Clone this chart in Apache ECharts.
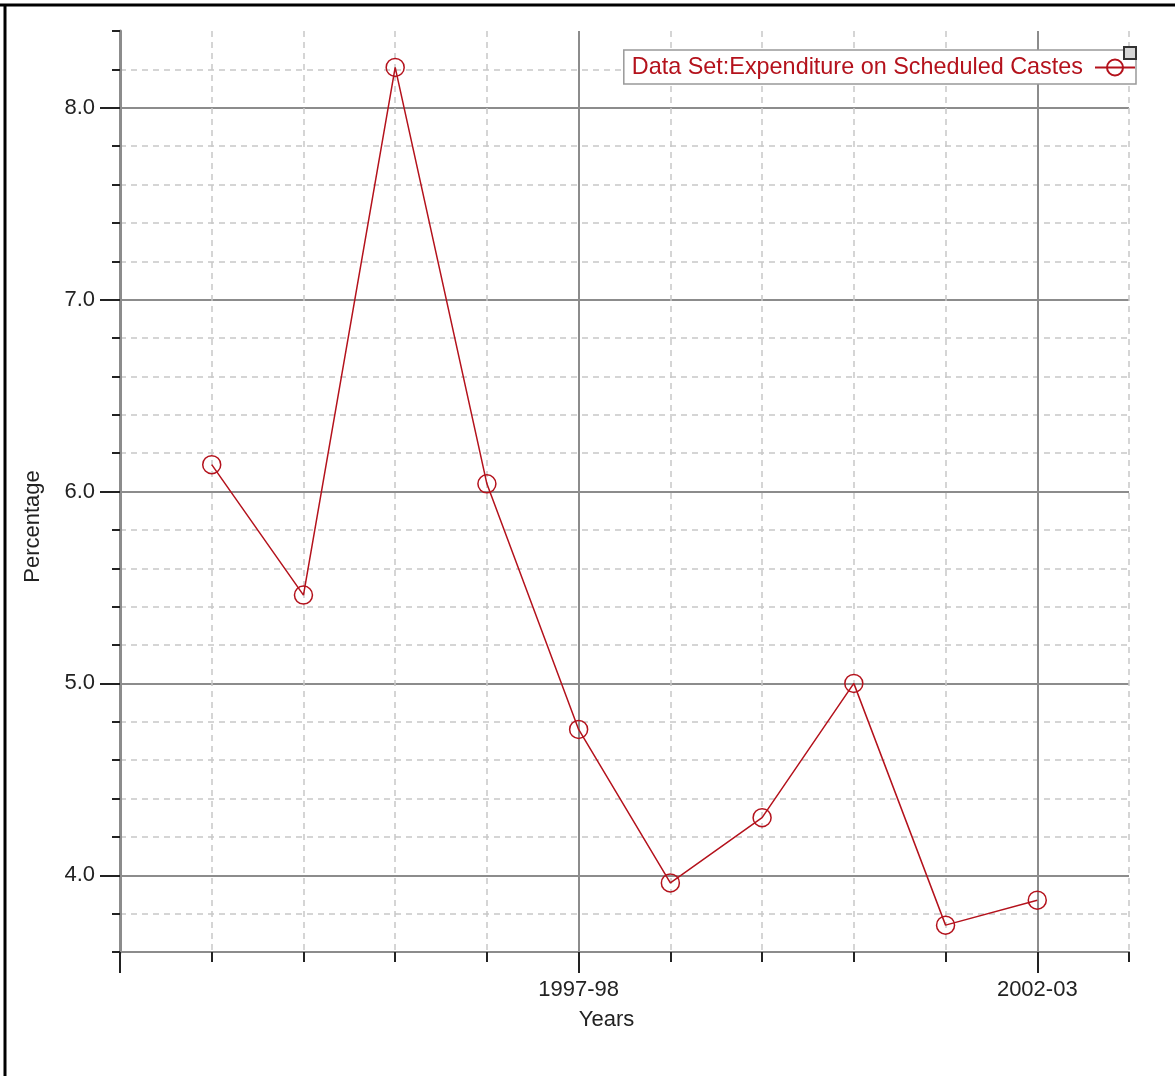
<!DOCTYPE html>
<html>
<head>
<meta charset="utf-8">
<script src="https://cdn.jsdelivr.net/npm/echarts@6/dist/echarts.min.js"></script>
<style>
html,body{margin:0;padding:0;background:#fff;}
#chart{width:1175px;height:1076px;}
</style>
</head>
<body>
<div id="chart"></div>
<script>
// Data
var years = ['1992-93','1993-94','1994-95','1995-96','1996-97','1997-98','1998-99','1999-00','2000-01','2001-02','2002-03','2003-04'];
var expenditure = [null, 6.14, 5.46, 8.21, 6.04, 4.76, 3.96, 4.30, 5.00, 3.74, 3.87, null];
var majorYTicks = [4, 5, 6, 7, 8];
var labeledYears = ['1997-98', '2002-03'];
var seriesName = 'Data Set:Expenditure on Scheduled Castes';

var FONT = 'Liberation Sans, Arial, sans-serif';
var RED = '#b4121c';
var DASH = {color: '#c8c8c8', width: 1.5, type: [6, 5]};
var SOLID = {color: '#8c8c8c', width: 2};

var chart = echarts.init(document.getElementById('chart'));
chart.setOption({
  backgroundColor: '#fff',
  animation: false,
  grid: {left: 120, right: 46, top: 31, bottom: 124, containLabel: false},
  legend: {
    right: 39, top: 50,
    orient: 'horizontal',
    align: 'right',
    backgroundColor: '#fff',
    borderColor: '#999', borderWidth: 1.5,
    padding: [6, 0, 5, 8],
    itemWidth: 40, itemHeight: 20,
    textStyle: {color: RED, fontSize: 23.4, fontFamily: FONT, padding: [0, 7, 0, 0]},
    data: [seriesName]
  },
  xAxis: [
    {
      type: 'category', data: years, boundaryGap: false, position: 'bottom',
      axisLine: {show: true, lineStyle: {color: '#8c8c8c', width: 2}},
      axisTick: {show: true, interval: 0, length: 10, lineStyle: {color: '#222', width: 2}},
      axisLabel: {show: false},
      splitLine: {show: true, interval: 0, lineStyle: DASH},
      name: 'Years', nameLocation: 'middle', nameGap: 57,
      nameTextStyle: {color: '#222', fontSize: 22, fontFamily: FONT, padding: [0, 36, 0, 0]}
    },
    {
      type: 'category', data: years, boundaryGap: false, position: 'bottom',
      axisLine: {show: false},
      axisTick: {show: true, length: 21, lineStyle: {color: '#222', width: 2},
        interval: function (i) { return i % 5 === 0; }},
      axisLabel: {show: true, margin: 27, color: '#222', fontSize: 22, fontFamily: FONT,
        interval: function (i, v) { return labeledYears.indexOf(v) >= 0; }},
      splitLine: {show: true, lineStyle: SOLID,
        interval: function (i) { return i % 5 === 0; }}
    }
  ],
  yAxis: [
    {
      type: 'value', min: 3.6, max: 8.4, interval: 0.2, position: 'left',
      axisLine: {show: true, lineStyle: {color: '#8c8c8c', width: 3}},
      axisTick: {show: true, length: 8, lineStyle: {color: '#222', width: 2}},
      axisLabel: {show: false},
      splitLine: {show: true, showMaxLine: false, lineStyle: DASH},
      name: 'Percentage', nameLocation: 'middle', nameGap: 76, nameRotate: 90,
      nameTextStyle: {color: '#222', fontSize: 22, fontFamily: FONT, padding: [0, 70, 0, 0]}
    },
    {
      type: 'value', min: 3.6, max: 8.4, interval: 1, position: 'left',
      axisLine: {show: false},
      axisTick: {show: true, length: 20, customValues: majorYTicks, lineStyle: {color: '#222', width: 2}},
      axisLabel: {show: true, margin: 25, customValues: majorYTicks, color: '#222', fontSize: 22, fontFamily: FONT,
        formatter: function (v) { return v.toFixed(1); }},
      splitLine: {show: true, lineStyle: SOLID}
    }
  ],
  series: [{
    name: seriesName,
    type: 'line',
    xAxisIndex: 0, yAxisIndex: 0,
    data: expenditure,
    connectNulls: false,
    symbol: 'circle', symbolSize: 18,
    lineStyle: {color: RED, width: 1.5},
    itemStyle: {color: 'rgba(255,255,255,0)', borderColor: RED, borderWidth: 1.5},
    z: 5
  }],
  graphic: [
    {type: 'line', shape: {x1: 0, y1: 5, x2: 1175, y2: 5}, style: {stroke: '#000', lineWidth: 3}, z: 100},
    {type: 'line', shape: {x1: 5, y1: 4, x2: 5, y2: 1076}, style: {stroke: '#000', lineWidth: 3}, z: 100},
    {type: 'rect', shape: {x: 1124, y: 47, width: 12, height: 12}, style: {fill: '#d6d6d6', stroke: '#333', lineWidth: 2}, z: 100}
  ]
});
</script>
</body>
</html>
